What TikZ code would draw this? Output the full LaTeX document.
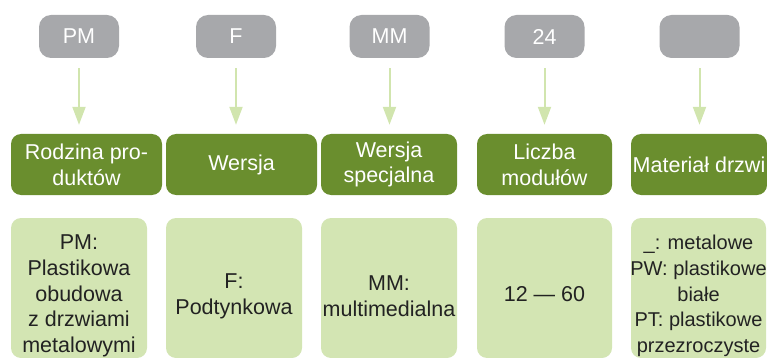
\documentclass[tikz,border=0pt]{standalone}
\usepackage{fontspec}
\setmainfont{Liberation Sans}
\usetikzlibrary{arrows.meta}
\definecolor{boxgray}{HTML}{A7A8AB}
\definecolor{dgreen}{HTML}{6A8E2E}
\definecolor{lgreen}{HTML}{D3E5B3}
\definecolor{arrgreen}{HTML}{D1E5AE}
\definecolor{txt}{HTML}{222222}
\tikzset{
  codebox/.style={fill=boxgray, rounded corners=12pt, minimum width=80pt, minimum height=43pt, inner sep=0pt, text=white, font=\fontsize{21.5pt}{25.7pt}\selectfont},
  headbox/.style={fill=dgreen, rounded corners=10pt, minimum height=61pt, inner sep=0pt, text=white, align=center, font=\fontsize{21.5pt}{25.7pt}\selectfont},
  valbox/.style={fill=lgreen, rounded corners=10pt, minimum height=140pt, inner sep=0pt},
  valtext/.style={inner sep=0pt, text=txt, align=center, font=\fontsize{21.5pt}{25.7pt}\selectfont},
  arr/.style={draw=arrgreen, line width=2pt, -{Triangle[width=13pt,length=18pt]}, shorten <=10pt, shorten >=9pt}
}
\begin{document}
\begin{tikzpicture}[x=1pt,y=1pt]
\useasboundingbox (0,0) rectangle (767,-358);
\clip (0,0) rectangle (767,-358);
% code boxes
\node[codebox] (g1) at (79,-36.5) {PM};
\node[codebox] (g2) at (236,-36.5) {F};
\node[codebox] (g3) at (389.5,-36.5) {MM};
\node[codebox] (g4) at (544.5,-36.5) {24};
\node[codebox] (g5) at (699.5,-36.5) {};
% header boxes
\node[headbox, minimum width=151pt] (h1) at (86.5,-164.5) {Rodzina pro-\\duktów};
\node[headbox, minimum width=151pt] (h2) at (241.5,-164.5) {Wersja};
\node[headbox, minimum width=136pt] (h3) at (389,-164.5) {Wersja\\specjalna};
\node[headbox, minimum width=135pt] (h4) at (544.5,-164.5) {Liczba\\modułów};
\node[headbox, minimum width=136pt] (h5) at (699,-164.5) {Materiał drzwi};
% value boxes
\node[valbox, minimum width=136pt] (v1) at (79,-288) {};
\node[valbox, minimum width=136pt] (v2) at (234,-288) {};
\node[valbox, minimum width=136pt] (v3) at (389,-288) {};
\node[valbox, minimum width=135pt] (v4) at (544.5,-288) {};
\node[valbox, minimum width=135pt] (v5) at (698.5,-288) {};
\node[valtext] (t1) at ([yshift=-8pt]v1.center) {PM:\\Plastikowa\\obudowa\\z drzwiami\\metalowymi};
\node[valtext] (t2) at ([yshift=-8pt]v2.center) {F:\\Podtynkowa};
\node[valtext] (t3) at ([yshift=-8pt]v3.center) {MM:\\multimedialna};
\node[valtext] (t4) at ([yshift=-6pt]v4.center) {12 — 60};
\node[valtext, font=\fontsize{20pt}{25.7pt}\selectfont] (t5) at ([yshift=-8pt]v5.center) {\_: metalowe\\PW: plastikowe\\białe\\PT: plastikowe\\przezroczyste};
% arrows
\draw[arr] (g1.south) -- (g1.south |- h1.north);
\draw[arr] (g2.south) -- (g2.south |- h2.north);
\draw[arr] (g3.south) -- (g3.south |- h3.north);
\draw[arr] (g4.south) -- (g4.south |- h4.north);
\draw[arr] (g5.south) -- (g5.south |- h5.north);
\end{tikzpicture}
\end{document}
